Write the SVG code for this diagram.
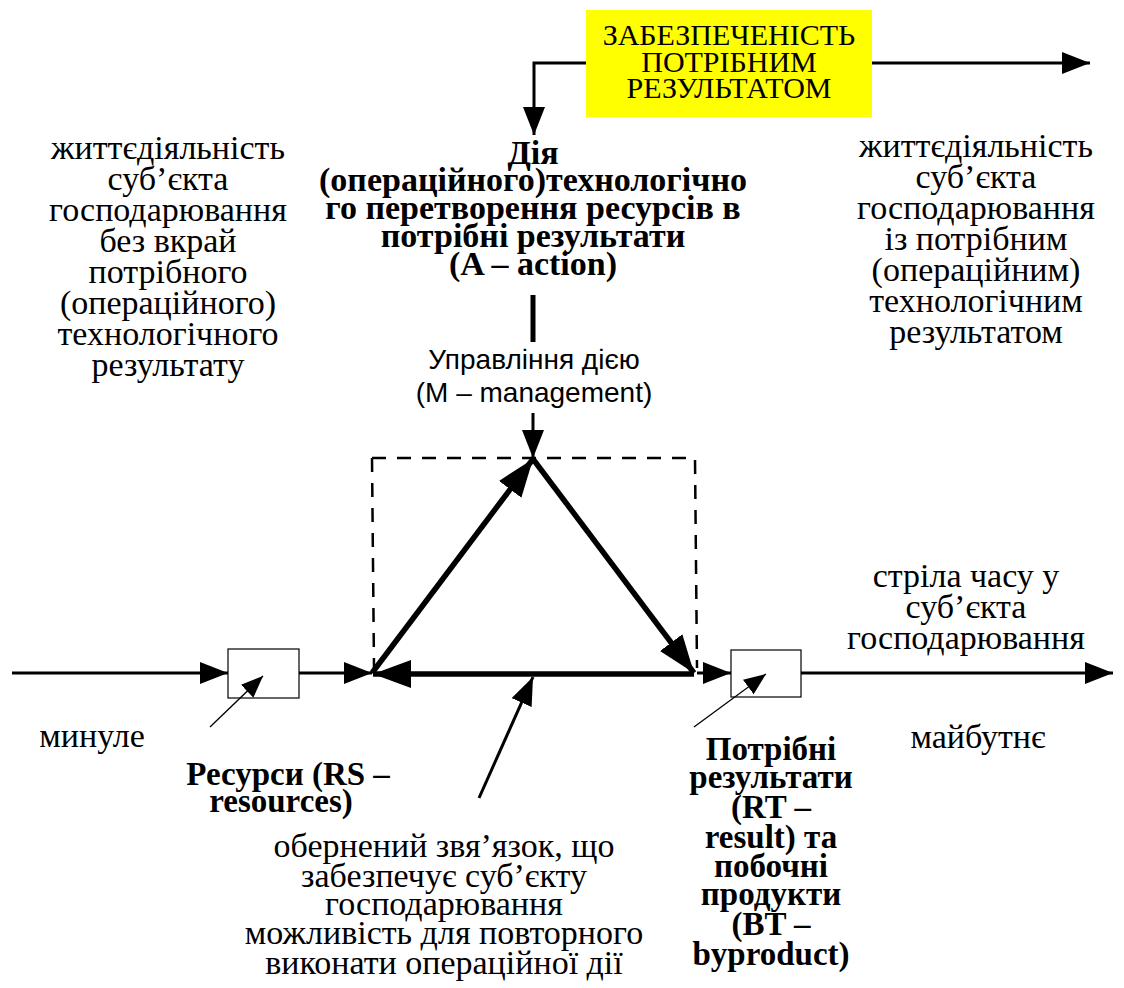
<svg xmlns="http://www.w3.org/2000/svg" width="1124" height="988" viewBox="0 0 1124 988">
  <style>
    .serif { font-family: "Liberation Serif", "Times New Roman", serif; fill: #000; text-anchor: middle; }
    .reg { font-size: 34px; }
    .bold { font-size: 33px; font-weight: bold; }
    .title { font-size: 34px; font-weight: bold; }
    .cap { font-size: 30px; }
    .sans { font-family: "Liberation Sans", Arial, sans-serif; font-size: 28px; fill: #000; text-anchor: middle; }
    .line { fill: none; stroke: #000; stroke-width: 3; }
    .thick { fill: none; stroke: #000; stroke-width: 5.5; }
    .thin { fill: none; stroke: #000; stroke-width: 1.3; }
    .box { fill: #fff; stroke: #000; stroke-width: 1.2; }
  </style>
  <defs>
    <marker id="ah-big" markerUnits="userSpaceOnUse" markerWidth="40" markerHeight="28" refX="38" refY="14" orient="auto">
      <path d="M0,0 L38,14 L0,28 Z" fill="#000"/>
    </marker>
    <marker id="ah-mid" markerUnits="userSpaceOnUse" markerWidth="30" markerHeight="22" refX="28" refY="11" orient="auto">
      <path d="M0,0 L28,11 L0,22 Z" fill="#000"/>
    </marker>
    <marker id="ah-small" markerUnits="userSpaceOnUse" markerWidth="24" markerHeight="18" refX="22" refY="9" orient="auto">
      <path d="M0,0 L22,9 L0,18 Z" fill="#000"/>
    </marker>
  </defs>

  <rect width="1124" height="988" fill="#fff"/>

  <g id="node-result-provision">
    <rect x="586" y="10" width="286" height="107" fill="#ffff00"/>
    <text class="serif cap" x="729" y="45">ЗАБЕЗПЕЧЕНІСТЬ</text>
    <text class="serif cap" x="729" y="72">ПОТРІБНИМ</text>
    <text class="serif cap" x="729" y="98">РЕЗУЛЬТАТОМ</text>
  </g>

  <g id="node-life-before">
    <text class="serif reg" x="168" y="159">життєдіяльність</text>
    <text class="serif reg" x="168" y="190">суб’єкта</text>
    <text class="serif reg" x="168" y="221">господарювання</text>
    <text class="serif reg" x="168" y="252">без вкрай</text>
    <text class="serif reg" x="168" y="283">потрібного</text>
    <text class="serif reg" x="168" y="314">(операційного)</text>
    <text class="serif reg" x="168" y="345">технологічного</text>
    <text class="serif reg" x="168" y="376">результату</text>
  </g>

  <g id="node-life-after">
    <text class="serif reg" x="976" y="157">життєдіяльність</text>
    <text class="serif reg" x="976" y="188">суб’єкта</text>
    <text class="serif reg" x="976" y="219">господарювання</text>
    <text class="serif reg" x="976" y="250">із потрібним</text>
    <text class="serif reg" x="976" y="281">(операційним)</text>
    <text class="serif reg" x="976" y="312">технологічним</text>
    <text class="serif reg" x="976" y="343">результатом</text>
  </g>

  <g id="node-action">
    <text class="serif title" x="533" y="164">Дія</text>
    <text class="serif title" x="533" y="191">(операційного)технологічно</text>
    <text class="serif title" x="533" y="219">го перетворення ресурсів в</text>
    <text class="serif title" x="533" y="247">потрібні результати</text>
    <text class="serif title" x="533" y="275">(A – action)</text>
  </g>

  <g id="node-management">
    <text class="sans" x="534" y="369">Управління дією</text>
    <text class="sans" x="534" y="402">(M – management)</text>
  </g>

  <g id="node-resources">
    <rect class="box" x="228" y="649" width="71" height="49"/>
    <text class="serif bold" x="288" y="785">Ресурси (RS –</text>
    <text class="serif bold" x="281" y="812">resources)</text>
  </g>

  <g id="node-results">
    <rect class="box" x="731" y="650" width="70" height="47"/>
    <text class="serif bold" x="771" y="760">Потрібні</text>
    <text class="serif bold" x="771" y="788">результати</text>
    <text class="serif bold" x="771" y="818">(RT –</text>
    <text class="serif bold" x="771" y="848">result) та</text>
    <text class="serif bold" x="771" y="877">побочні</text>
    <text class="serif bold" x="771" y="905">продукти</text>
    <text class="serif bold" x="771" y="935">(BT –</text>
    <text class="serif bold" x="771" y="965">byproduct)</text>
  </g>

  <g id="node-past">
    <text class="serif reg" x="92" y="747">минуле</text>
  </g>

  <g id="node-future">
    <text class="serif reg" x="978" y="748">майбутнє</text>
  </g>

  <g id="node-time-arrow">
    <text class="serif reg" x="966" y="587">стріла часу у</text>
    <text class="serif reg" x="966" y="618">суб’єкта</text>
    <text class="serif reg" x="966" y="649">господарювання</text>
  </g>

  <g id="node-feedback">
    <text class="serif reg" x="444" y="857">обернений звя’язок, що</text>
    <text class="serif reg" x="444" y="887">забезпечує суб’єкту</text>
    <text class="serif reg" x="444" y="915">господарювання</text>
    <text class="serif reg" x="444" y="944">можливість для повторного</text>
    <text class="serif reg" x="444" y="974">виконати операційної дії</text>
  </g>

  <!-- connectors, drawn last so the pointer heads sit over the cells -->
  <g id="connectors">
    <!-- outputs of the required-result block -->
    <polyline class="line" points="586,63 534,63 534,135" marker-end="url(#ah-mid)"/>
    <line class="line" x1="872" y1="63" x2="1090" y2="63" marker-end="url(#ah-mid)"/>
    <!-- action to management -->
    <line x1="533" y1="295" x2="533" y2="342" stroke="#000" stroke-width="5"/>
    <line class="line" x1="533" y1="413" x2="533" y2="458" stroke-width="4" marker-end="url(#ah-mid)"/>
    <!-- time axis -->
    <line class="line" x1="12" y1="673" x2="228" y2="673" marker-end="url(#ah-mid)"/>
    <line class="line" x1="299" y1="673" x2="372" y2="673" marker-end="url(#ah-mid)"/>
    <line class="line" x1="697" y1="673" x2="731" y2="673" marker-end="url(#ah-mid)"/>
    <line class="line" x1="801" y1="673" x2="1113" y2="673" marker-end="url(#ah-mid)"/>
    <!-- management boundary -->
    <path d="M372,458 L695,458 L697,668 M372,458 L374,668" fill="none" stroke="#000" stroke-width="2.5" stroke-dasharray="14,11"/>
    <!-- action cycle -->
    <line class="thick" x1="372" y1="673" x2="533" y2="459" marker-end="url(#ah-big)"/>
    <line class="thick" x1="533" y1="459" x2="694" y2="673" marker-end="url(#ah-big)"/>
    <line class="thick" x1="694" y1="674" x2="373" y2="674" marker-end="url(#ah-big)"/>
    <!-- feedback -->
    <line x1="479" y1="798" x2="533" y2="677" stroke="#000" stroke-width="3" marker-end="url(#ah-mid)"/>
    <!-- pointers to the resource and result cells -->
    <line class="thin" x1="210" y1="727" x2="263" y2="676" marker-end="url(#ah-small)"/>
    <line class="thin" x1="694" y1="727" x2="766" y2="674" marker-end="url(#ah-small)"/>
  </g>
</svg>
